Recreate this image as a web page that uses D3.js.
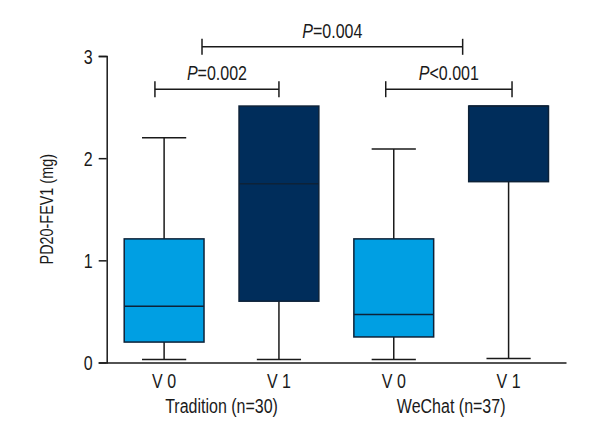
<!DOCTYPE html>
<html>
<head>
<meta charset="utf-8">
<script src="https://cdn.jsdelivr.net/npm/d3@7"></script>
<style>
  html, body { margin: 0; padding: 0; background: #fff; }
  svg text { font-family: "Liberation Sans", Arial, sans-serif; fill: #1a1a1a; }
</style>
</head>
<body>
<svg id="chart" width="600" height="440"></svg>
<script>
// ---- data ----
const categories = ["T-V0", "T-V1", "W-V0", "W-V1"];
const tickLabels = ["V 0", "V 1", "V 0", "V 1"];
const groupLabels = ["Tradition (n=30)", "WeChat (n=37)"];
const mins    = [0.03, 0.03, 0.03, 0.04];
const q1s     = [0.20, 0.60, 0.25, 1.77];
const medians = [0.55, 1.75, 0.47, 2.51];
const q3s     = [1.21, 2.51, 1.21, 2.51];
const maxs    = [2.20, 2.51, 2.09, 2.51];
const visit   = ["V0", "V1", "V0", "V1"];
const yTicks  = [0, 1, 2, 3];
// significance brackets: start/end in category units, level in y units
const bracketLabels = ["=0.002", "<0.001", "=0.004"];
const bracketStart  = [-0.08, 1.93, 0.33];
const bracketEnd    = [1.0, 3.03, 2.6];
const bracketLevel  = [2.675, 2.675, 3.09];

// ---- layout ----
const svg = d3.select("#chart");
const mLeft = 106.7, mRight = 566, mTop = 56, mBottom = 362.5;
const colors = { V0: "#009fe3", V1: "#002d5b" };
const condense = 0.8;

function squeeze(sel) {
  sel.each(function () {
    const w = this.getComputedTextLength();
    if (w > 0) d3.select(this).attr("textLength", w * condense).attr("lengthAdjust", "spacingAndGlyphs");
  });
}

const x = d3.scaleBand().domain(categories).range([mLeft, mRight]).padding(0);
const bw = x.bandwidth();
const boxW = bw * 0.695;
const capW = bw * 0.385;
const xc = d => x(d) + bw / 2;
const xu = d3.scaleLinear().domain([0, 3]).range([xc(categories[0]), xc(categories[3])]);
const y = d3.scaleLinear().domain([0, 3]).range([mBottom, mTop]);

// axes
const yAxis = d3.axisLeft(y).tickValues(yTicks).tickSize(8).tickPadding(6).tickFormat(d3.format("d"));
const gy = svg.append("g").attr("transform", `translate(${mLeft},0)`).call(yAxis);
gy.attr("font-family", null).attr("font-size", null);
gy.select(".domain").attr("stroke", "#1a1a1a").attr("stroke-width", 1.5);
gy.selectAll(".tick line").attr("stroke", "#1a1a1a").attr("stroke-width", 1.5);
gy.selectAll(".tick text").attr("font-size", 20).attr("dy", "0.36em");

const xAxis = d3.axisBottom(x).tickSize(0).tickPadding(11).tickFormat((d, i) => tickLabels[i]);
const gx = svg.append("g").attr("transform", `translate(0,${mBottom})`).call(xAxis);
gx.attr("font-family", null).attr("font-size", null);
gx.select(".domain").attr("stroke", "#1a1a1a").attr("stroke-width", 1.5);
gx.selectAll(".tick text").attr("font-size", 20);

// group labels
groupLabels.forEach((g, i) => {
  const cx = (xc(categories[i * 2]) + xc(categories[i * 2 + 1])) / 2;
  svg.append("text").attr("x", cx).attr("y", 413).attr("text-anchor", "middle")
    .attr("font-size", 20).text(g);
});

// y title
svg.append("text")
  .attr("transform", `translate(53,${(mTop + mBottom) / 2}) rotate(-90)`)
  .attr("text-anchor", "middle").attr("font-size", 18).text("PD20-FEV1 (mg)");

squeeze(svg.selectAll("text"));

// boxes
categories.forEach((c, i) => {
  const g = svg.append("g");
  const cx = xc(c);
  g.append("line").attr("x1", cx).attr("x2", cx).attr("y1", y(maxs[i])).attr("y2", y(q3s[i]))
    .attr("stroke", "#1a1a1a").attr("stroke-width", 1.5);
  g.append("line").attr("x1", cx).attr("x2", cx).attr("y1", y(q1s[i])).attr("y2", y(mins[i]))
    .attr("stroke", "#1a1a1a").attr("stroke-width", 1.5);
  g.append("line").attr("x1", cx - capW / 2).attr("x2", cx + capW / 2).attr("y1", y(mins[i])).attr("y2", y(mins[i]))
    .attr("stroke", "#1a1a1a").attr("stroke-width", 1.5);
  if (maxs[i] > q3s[i]) {
    g.append("line").attr("x1", cx - capW / 2).attr("x2", cx + capW / 2).attr("y1", y(maxs[i])).attr("y2", y(maxs[i]))
      .attr("stroke", "#1a1a1a").attr("stroke-width", 1.5);
  }
  g.append("rect").attr("x", cx - boxW / 2).attr("width", boxW)
    .attr("y", y(q3s[i])).attr("height", y(q1s[i]) - y(q3s[i]))
    .attr("fill", colors[visit[i]]).attr("stroke", "#0d2238").attr("stroke-width", 1.5);
  g.append("line").attr("x1", cx - boxW / 2).attr("x2", cx + boxW / 2).attr("y1", y(medians[i])).attr("y2", y(medians[i]))
    .attr("stroke", "#0d2238").attr("stroke-width", 1.5);
});

// brackets
bracketLabels.forEach((lab, i) => {
  const x1 = xu(bracketStart[i]), x2 = xu(bracketEnd[i]), yy = y(bracketLevel[i]);
  const g = svg.append("g").attr("stroke", "#1a1a1a").attr("stroke-width", 1.5);
  g.append("line").attr("x1", x1).attr("x2", x2).attr("y1", yy).attr("y2", yy);
  g.append("line").attr("x1", x1).attr("x2", x1).attr("y1", yy - 8).attr("y2", yy + 8);
  g.append("line").attr("x1", x2).attr("x2", x2).attr("y1", yy - 8).attr("y2", yy + 8);
  const lg = svg.append("g").attr("transform", `translate(${(x1 + x2) / 2},${yy - 9}) scale(${condense},1)`);
  const t = lg.append("text").attr("x", 0).attr("y", 0).attr("text-anchor", "middle").attr("font-size", 20);
  t.append("tspan").attr("font-style", "italic").text("P");
  t.append("tspan").text(lab);
});
</script>
</body>
</html>
